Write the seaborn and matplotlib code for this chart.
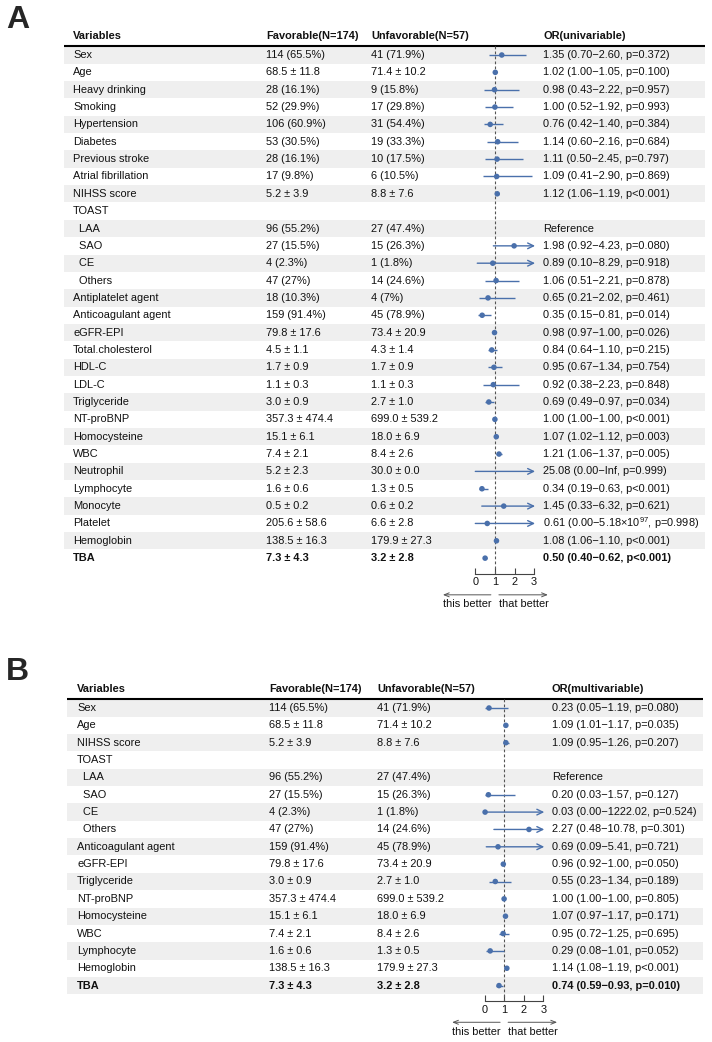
import numpy as np
import pandas as pd
import seaborn as sns
import matplotlib.pyplot as plt
from matplotlib.patches import Rectangle

sns.set_theme(style="white")
plt.rcParams["font.family"] = ["Liberation Sans", "DejaVu Sans"]
plt.rcParams["mathtext.fontset"] = "custom"
plt.rcParams["mathtext.rm"] = "Liberation Sans"

nan = np.nan
inf = np.inf

# ---- panel A : univariable ----
vars_a = ["Sex", "Age", "Heavy drinking", "Smoking", "Hypertension", "Diabetes",
          "Previous stroke", "Atrial fibrillation", "NIHSS score", "TOAST",
          "  LAA", "  SAO", "  CE", "  Others", "Antiplatelet agent",
          "Anticoagulant agent", "eGFR-EPI", "Total.cholesterol", "HDL-C", "LDL-C",
          "Triglyceride", "NT-proBNP", "Homocysteine", "WBC", "Neutrophil",
          "Lymphocyte", "Monocyte", "Platelet", "Hemoglobin", "TBA"]
fav_a = ["114 (65.5%)", "68.5 ± 11.8", "28 (16.1%)", "52 (29.9%)", "106 (60.9%)",
         "53 (30.5%)", "28 (16.1%)", "17 (9.8%)", "5.2 ± 3.9", "",
         "96 (55.2%)", "27 (15.5%)", "4 (2.3%)", "47 (27%)", "18 (10.3%)",
         "159 (91.4%)", "79.8 ± 17.6", "4.5 ± 1.1", "1.7 ± 0.9", "1.1 ± 0.3",
         "3.0 ± 0.9", "357.3 ± 474.4", "15.1 ± 6.1", "7.4 ± 2.1", "5.2 ± 2.3",
         "1.6 ± 0.6", "0.5 ± 0.2", "205.6 ± 58.6", "138.5 ± 16.3", "7.3 ± 4.3"]
unf_a = ["41 (71.9%)", "71.4 ± 10.2", "9 (15.8%)", "17 (29.8%)", "31 (54.4%)",
         "19 (33.3%)", "10 (17.5%)", "6 (10.5%)", "8.8 ± 7.6", "",
         "27 (47.4%)", "15 (26.3%)", "1 (1.8%)", "14 (24.6%)", "4 (7%)",
         "45 (78.9%)", "73.4 ± 20.9", "4.3 ± 1.4", "1.7 ± 0.9", "1.1 ± 0.3",
         "2.7 ± 1.0", "699.0 ± 539.2", "18.0 ± 6.9", "8.4 ± 2.6", "30.0 ± 0.0",
         "1.3 ± 0.5", "0.6 ± 0.2", "6.6 ± 2.8", "179.9 ± 27.3", "3.2 ± 2.8"]
est_a = [1.35, 1.02, 0.98, 1.00, 0.76, 1.14, 1.11, 1.09, 1.12, nan,
         nan, 1.98, 0.89, 1.06, 0.65, 0.35, 0.98, 0.84, 0.95, 0.92,
         0.69, 1.00, 1.07, 1.21, 25.08, 0.34, 1.45, 0.61, 1.08, 0.50]
lo_a = [0.70, 1.00, 0.43, 0.52, 0.42, 0.60, 0.50, 0.41, 1.06, nan,
        nan, 0.92, 0.10, 0.51, 0.21, 0.15, 0.97, 0.64, 0.67, 0.38,
        0.49, 1.00, 1.02, 1.06, 0.00, 0.19, 0.33, 0.00, 1.06, 0.40]
hi_a = [2.60, 1.05, 2.22, 1.92, 1.40, 2.16, 2.45, 2.90, 1.19, nan,
        nan, 4.23, 8.29, 2.21, 2.02, 0.81, 1.00, 1.10, 1.34, 2.23,
        0.97, 1.00, 1.12, 1.37, inf, 0.63, 6.32, 5.18e97, 1.10, 0.62]
p_a = ["p=0.372", "p=0.100", "p=0.957", "p=0.993", "p=0.384", "p=0.684",
       "p=0.797", "p=0.869", "p<0.001", "", "Reference", "p=0.080", "p=0.918",
       "p=0.878", "p=0.461", "p=0.014", "p=0.026", "p=0.215", "p=0.754",
       "p=0.848", "p=0.034", "p<0.001", "p=0.003", "p=0.005", "p=0.999",
       "p<0.001", "p=0.621", "p=0.998", "p<0.001", "p<0.001"]

# ---- panel B : multivariable ----
vars_b = ["Sex", "Age", "NIHSS score", "TOAST", "  LAA", "  SAO", "  CE", "  Others",
          "Anticoagulant agent", "eGFR-EPI", "Triglyceride", "NT-proBNP",
          "Homocysteine", "WBC", "Lymphocyte", "Hemoglobin", "TBA"]
fav_b = ["114 (65.5%)", "68.5 ± 11.8", "5.2 ± 3.9", "", "96 (55.2%)", "27 (15.5%)",
         "4 (2.3%)", "47 (27%)", "159 (91.4%)", "79.8 ± 17.6", "3.0 ± 0.9",
         "357.3 ± 474.4", "15.1 ± 6.1", "7.4 ± 2.1", "1.6 ± 0.6", "138.5 ± 16.3",
         "7.3 ± 4.3"]
unf_b = ["41 (71.9%)", "71.4 ± 10.2", "8.8 ± 7.6", "", "27 (47.4%)", "15 (26.3%)",
         "1 (1.8%)", "14 (24.6%)", "45 (78.9%)", "73.4 ± 20.9", "2.7 ± 1.0",
         "699.0 ± 539.2", "18.0 ± 6.9", "8.4 ± 2.6", "1.3 ± 0.5", "179.9 ± 27.3",
         "3.2 ± 2.8"]
est_b = [0.23, 1.09, 1.09, nan, nan, 0.20, 0.03, 2.27, 0.69, 0.96, 0.55, 1.00,
         1.07, 0.95, 0.29, 1.14, 0.74]
lo_b = [0.05, 1.01, 0.95, nan, nan, 0.03, 0.00, 0.48, 0.09, 0.92, 0.23, 1.00,
        0.97, 0.72, 0.08, 1.08, 0.59]
hi_b = [1.19, 1.17, 1.26, nan, nan, 1.57, 1222.02, 10.78, 5.41, 1.00, 1.34, 1.00,
        1.17, 1.25, 1.01, 1.19, 0.93]
p_b = ["p=0.080", "p=0.035", "p=0.207", "", "Reference", "p=0.127", "p=0.524",
       "p=0.301", "p=0.721", "p=0.050", "p=0.189", "p=0.805", "p=0.171",
       "p=0.695", "p=0.052", "p<0.001", "p=0.010"]

W, H = 712, 1042
BLUE = "#4a70ab"
SHADE = "#efefef"
TXT = "#111111"
FS = 7.9
ROW = 17.35
UNIT = 19.6


def fmt(v):
    if np.isinf(v):
        return "Inf"
    if v >= 1e6:
        e = int(np.floor(np.log10(v)))
        return f"{v / 10 ** e:.2f}×10$^{{{e}}}$"
    return f"{v:.2f}"


def or_label(e, l, h, p):
    if p in ("", "Reference"):
        return p
    return f"{e:.2f} ({fmt(l)}\u2212{fmt(h)}, {p})"


fig = plt.figure(figsize=(W / 100, H / 100), dpi=100)
bg = fig.add_axes([0, 0, 1, 1])
bg.set_xlim(0, W)
bg.set_ylim(H, 0)
bg.axis("off")


def panel(letter, letter_y, head_y, line_y, y0, left, right, cols, zero_px,
          vars_, fav, unf, est, lo, hi, p, or_title):
    n = len(vars_)
    bg.text(6, letter_y, letter, fontsize=23, fontweight="bold", va="center", ha="left")
    for x, t in zip(cols, ["Variables", "Favorable(N=174)", "Unfavorable(N=57)", or_title]):
        bg.text(x, head_y, t, fontsize=FS, fontweight="bold", va="center", color=TXT)
    bg.plot([left, right], [line_y, line_y], color="black", lw=1.5, solid_capstyle="butt")

    for i in range(n):
        y = y0 + i * ROW
        if i % 2 == 0:
            bg.add_patch(Rectangle((left, y - ROW / 2), right - left, ROW,
                                   facecolor=SHADE, edgecolor="none"))
        w = "bold" if vars_[i] == "TBA" else "normal"
        row_txt = [vars_[i], fav[i], unf[i], or_label(est[i], lo[i], hi[i], p[i])]
        for x, t in zip(cols, row_txt):
            bg.text(x, y, t, fontsize=FS, fontweight=w, va="center", color=TXT)

    # forest column
    xl, xr = -0.5, 3.5
    bot_px = y0 + (n - 0.5) * ROW
    ax = fig.add_axes([(zero_px + xl * UNIT) / W, 1 - bot_px / H,
                       (xr - xl) * UNIT / W, n * ROW / H])
    ax.patch.set_alpha(0)
    df = pd.DataFrame({"row": np.arange(n), "est": est, "lo": lo, "hi": hi})
    df = df.dropna()

    ax.plot([1, 1], [-0.5, n - 0.5 + 0.4], ls=(0, (2.5, 2)), color="#555555",
            lw=0.8, clip_on=False, zorder=1)
    for _, r in df.iterrows():
        if r["hi"] > 3:
            ax.annotate("", xy=(3.05, r["row"]), xytext=(r["lo"], r["row"]),
                        arrowprops=dict(arrowstyle="->,head_length=0.35,head_width=0.17",
                                        color=BLUE, lw=1.0, shrinkA=0, shrinkB=0))
        else:
            ax.hlines(r["row"], r["lo"], r["hi"], color=BLUE, lw=1.0, zorder=2)
    pts = df[df["est"] <= 3]
    sns.scatterplot(data=pts, x="est", y="row", ax=ax, color=BLUE, s=16,
                    edgecolor="none", zorder=3, legend=False)

    ax.set_xlim(xl, xr)
    ax.set_ylim(n - 0.5, -0.5)
    for s in ["left", "right", "top"]:
        ax.spines[s].set_visible(False)
    ax.spines["bottom"].set_bounds(0, 3)
    ax.spines["bottom"].set_position(("outward", 5))
    ax.spines["bottom"].set_color("#444444")
    ax.spines["bottom"].set_linewidth(0.8)
    ax.set_xticks([0, 1, 2, 3])
    ax.set_xticklabels(["0", "1", "2", "3"])
    ax.set_yticks([])
    ax.tick_params(axis="x", direction="in", bottom=True, length=4.5, width=0.8,
                   color="#444444", labelsize=FS, pad=2.5, labelcolor=TXT)
    ax.set_xlabel("")
    ax.set_ylabel("")

    # direction arrows under the axis
    one = zero_px + UNIT
    ay = bot_px + 28
    for x_end, x_start in [(one - 52, one - 4), (one + 53, one + 4)]:
        bg.annotate("", xy=(x_end, ay), xytext=(x_start, ay),
                    arrowprops=dict(arrowstyle="->,head_length=0.3,head_width=0.12",
                                    color="#555555", lw=0.7, shrinkA=0, shrinkB=0))
    bg.text(one - 28, ay + 9.5, "this better", fontsize=FS, ha="center", va="center", color=TXT)
    bg.text(one + 29, ay + 9.5, "that better", fontsize=FS, ha="center", va="center", color=TXT)


panel("A", 20, 36, 45.5, 55, 64, 705, [73, 266, 371, 543], 475.3,
      vars_a, fav_a, unf_a, est_a, lo_a, hi_a, p_a, "OR(univariable)")
panel("B", 672, 689, 698.5, 708, 67, 703, [77, 269, 377, 552], 484.5,
      vars_b, fav_b, unf_b, est_b, lo_b, hi_b, p_b, "OR(multivariable)")

fig.savefig("out.png", dpi=100)
